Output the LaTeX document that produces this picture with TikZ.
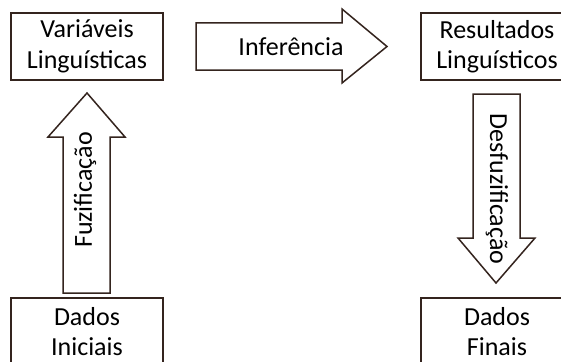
\documentclass[tikz,border=0pt]{standalone}
\usepackage{fontspec}
\setmainfont{Carlito}
\definecolor{edge}{RGB}{52,36,30}
\begin{document}
\begin{tikzpicture}[x=1pt,y=-1pt,
  box/.style={draw=edge,line width=1.5pt,fill=white,minimum width=152pt,minimum height=67pt,inner sep=0pt,align=center,font=\fontsize{26}{30.5}\selectfont},
  blockarrow/.style={draw=edge,line width=1.5pt,fill=white,line join=miter},
  lbl/.style={font=\fontsize{26}{30}\selectfont,inner sep=0pt}]
\useasboundingbox (0,0) rectangle (561,361);
\clip (0,0) rectangle (561,361);
\fill[white] (0,0) rectangle (561,361);
% boxes
\node[box] (var) at (87,46.5) {Variáveis\\Linguísticas};
\node[box] (res) at (497,46.5) {Resultados\\Linguísticos};
\node[box] (ini) at (87,331.5) {Dados\\Iniciais};
\node[box] (fin) at (497,331.5) {Dados\\Finais};
% inference arrow
\draw[blockarrow] (196,23) -- (342,23) -- (342,9) -- (387,46.5) -- (342,83) -- (342,70) -- (196,70) -- cycle;
\node[lbl] (inf) at (291,46.5) {Inferência};
% fuzification arrow (up)
\draw[blockarrow] (63,293) -- (63,137) -- (48,137) -- (87,93) -- (125,137) -- (110,137) -- (110,293) -- cycle;
\node[lbl,rotate=90] (fuz) at (85,190) {Fuzificação};
% defuzification arrow (down)
\draw[blockarrow] (473,94) -- (473,238) -- (458,238) -- (496,283) -- (535,238) -- (520,238) -- (520,94) -- cycle;
\node[lbl,rotate=-90] (desf) at (497,189) {Desfuzificação};
\end{tikzpicture}
\end{document}
